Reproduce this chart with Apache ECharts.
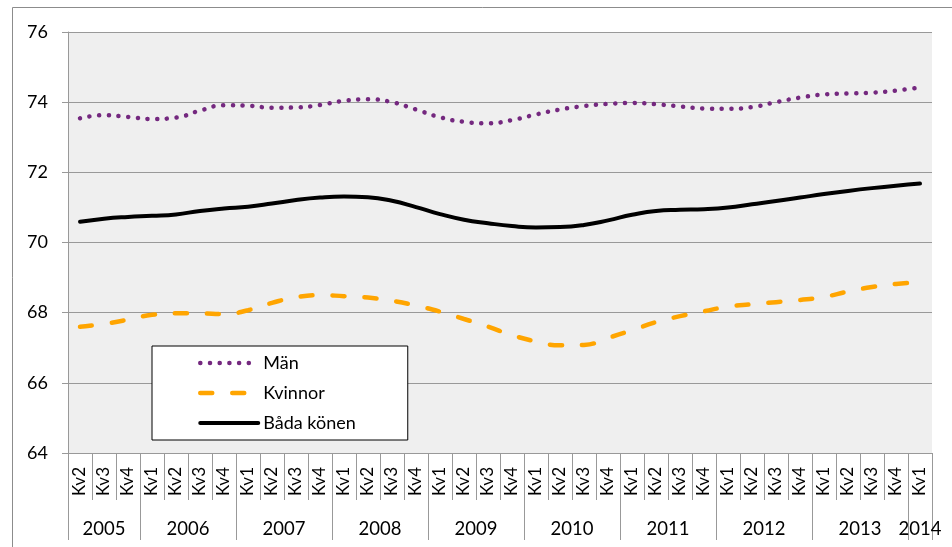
<!DOCTYPE html>
<html lang="sv">
<head>
    <meta charset="UTF-8">
    <title>Medellivslängd</title>
    <script src="https://cdn.jsdelivr.net/npm/echarts@6/dist/echarts.min.js"></script>
    <style>
        body { margin: 0; background: #ffffff; }
        #chart { width: 952px; height: 547px; }
    </style>
</head>
<body>
<div id="chart"></div>
<script>
    // kvartal (2005 Kv2 - 2014 Kv1)
    var quarters = ['Kv2', 'Kv3', 'Kv4',
        'Kv1', 'Kv2', 'Kv3', 'Kv4', 'Kv1', 'Kv2', 'Kv3', 'Kv4',
        'Kv1', 'Kv2', 'Kv3', 'Kv4', 'Kv1', 'Kv2', 'Kv3', 'Kv4',
        'Kv1', 'Kv2', 'Kv3', 'Kv4', 'Kv1', 'Kv2', 'Kv3', 'Kv4',
        'Kv1', 'Kv2', 'Kv3', 'Kv4', 'Kv1', 'Kv2', 'Kv3', 'Kv4',
        'Kv1'];
    var years = ['2005', '2006', '2007', '2008', '2009', '2010', '2011', '2012', '2013', '2014'];
    var quartersPerYear = [3, 4, 4, 4, 4, 4, 4, 4, 4, 1];

    var man = [73.54, 73.63, 73.58, 73.52, 73.56, 73.76, 73.91, 73.90, 73.84, 73.85,
        73.92, 74.04, 74.08, 74.00, 73.79, 73.57, 73.44, 73.40, 73.49, 73.65,
        73.79, 73.89, 73.95, 73.98, 73.94, 73.88, 73.82, 73.81, 73.86, 74.00,
        74.13, 74.22, 74.25, 74.27, 74.33, 74.42];
    var kvinnor = [67.60, 67.68, 67.80, 67.94, 67.98, 67.98, 67.96, 68.07, 68.28, 68.44,
        68.50, 68.47, 68.43, 68.34, 68.20, 68.03, 67.82, 67.60, 67.36, 67.18,
        67.07, 67.08, 67.28, 67.50, 67.73, 67.90, 68.04, 68.17, 68.24, 68.30,
        68.36, 68.45, 68.60, 68.73, 68.82, 68.86];
    var bada = [70.59, 70.68, 70.73, 70.76, 70.80, 70.90, 70.97, 71.02, 71.11, 71.21,
        71.28, 71.31, 71.29, 71.19, 71.01, 70.81, 70.65, 70.55, 70.47, 70.43,
        70.44, 70.50, 70.63, 70.79, 70.90, 70.93, 70.95, 71.00, 71.09, 71.18,
        71.28, 71.38, 71.47, 71.55, 71.62, 71.68];

    // årsaxeln byggs i halva kvartal så att årstalen hamnar mitt i sin grupp
    var yearBounds = [0];
    quartersPerYear.forEach(function (n, i) { yearBounds.push(yearBounds[i] + n * 2); });
    var yearCenters = [];
    var halfSlots = [];
    for (var k = 0; k <= yearBounds[yearBounds.length - 1]; k++) halfSlots.push('');
    for (var j = 0; j < years.length; j++) {
        var c = (yearBounds[j] + yearBounds[j + 1]) / 2;
        yearCenters.push(c);
        halfSlots[c] = years[j];
    }

    var font = 'Lato, "Liberation Sans", sans-serif';
    var gridGrey = '#999999';

    var manStyle = { color: '#74287F', width: 4.5, type: [0.1, 9.6], cap: 'round' };
    var kvinnorStyle = { color: '#FFA500', width: 4.5, type: [12, 20], cap: 'round' };
    var badaStyle = { color: '#000000', width: 4, cap: 'round' };

    var chart = echarts.init(document.getElementById('chart'));
    chart.setOption({
        backgroundColor: '#ffffff',
        animation: false,
        textStyle: { fontFamily: font },
        graphic: [{
            type: 'rect',
            shape: { x: 12.5, y: 7.5, width: 1000, height: 600 },
            style: { fill: 'none', stroke: '#8c8c8c', lineWidth: 1 },
            silent: true
        }],
        grid: {
            left: 68, right: 20, top: 32, bottom: 94,
            show: true, backgroundColor: '#EFEFEF', borderWidth: 0
        },
        legend: {
            orient: 'vertical',
            left: 152, top: 346,
            backgroundColor: '#ffffff',
            borderColor: '#000000',
            borderWidth: 1,
            padding: [8, 52, 8, 46],
            itemWidth: 58,
            itemHeight: 14,
            itemGap: 12,
            itemStyle: { opacity: 0 },
            textStyle: { fontSize: 18, color: '#000', fontFamily: font, lineHeight: 17 },
            data: [
                { name: 'Män', lineStyle: manStyle },
                { name: 'Kvinnor', lineStyle: kvinnorStyle },
                { name: 'Båda könen', lineStyle: badaStyle }
            ]
        },
        xAxis: [{
            type: 'category',
            data: quarters,
            boundaryGap: true,
            axisLine: { show: true, lineStyle: { color: gridGrey, width: 1 } },
            axisTick: { show: true, interval: 0, length: 47, lineStyle: { color: gridGrey } },
            axisLabel: { interval: 0, rotate: 90, margin: 14, fontSize: 17, color: '#000', fontFamily: font },
            splitLine: { show: false }
        }, {
            type: 'category',
            position: 'bottom',
            data: halfSlots,
            boundaryGap: false,
            axisLine: { show: false },
            axisTick: {
                show: true, length: 87, lineStyle: { color: gridGrey },
                interval: function (i) { return yearBounds.indexOf(i) >= 0; }
            },
            axisLabel: {
                margin: 67, fontSize: 18.5, color: '#000', fontFamily: font,
                interval: function (i) { return yearCenters.indexOf(i) >= 0; }
            },
            splitLine: { show: false }
        }],
        yAxis: {
            type: 'value',
            min: 64, max: 76, interval: 2,
            axisLine: { show: true, lineStyle: { color: gridGrey, width: 1 } },
            axisTick: { show: true, length: 6, lineStyle: { color: gridGrey } },
            axisLabel: { margin: 20, fontSize: 18, color: '#000', fontFamily: font },
            splitLine: { show: true, lineStyle: { color: gridGrey, width: 1 } }
        },
        series: [{
            name: 'Män',
            type: 'line',
            data: man,
            smooth: true,
            symbol: 'none',
            color: '#74287F',
            lineStyle: manStyle
        }, {
            name: 'Kvinnor',
            type: 'line',
            data: kvinnor,
            smooth: true,
            symbol: 'none',
            color: '#FFA500',
            lineStyle: kvinnorStyle
        }, {
            name: 'Båda könen',
            type: 'line',
            data: bada,
            smooth: true,
            symbol: 'none',
            color: '#000000',
            lineStyle: badaStyle
        }]
    });
</script>
</body>
</html>
